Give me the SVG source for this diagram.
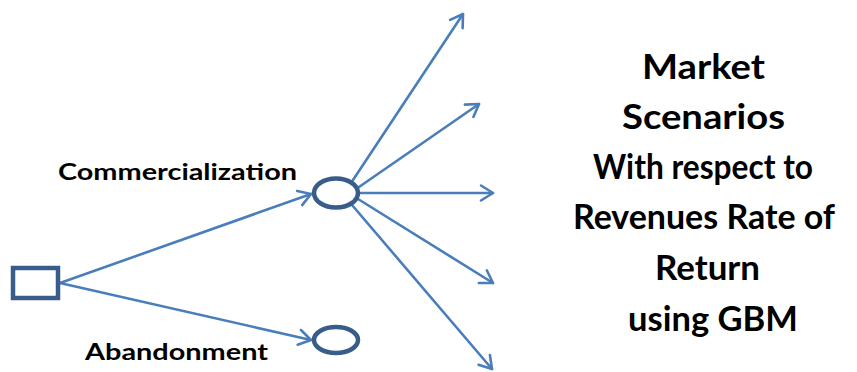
<svg xmlns="http://www.w3.org/2000/svg" width="857" height="372" viewBox="0 0 857 372">
  <style>
    .conn { stroke: #4a7ebb; stroke-width: 2.6; fill: none; stroke-linecap: round; }
    .node { stroke: #385d8a; stroke-width: 4.5; fill: #ffffff; }
    .lbl { font-family: Lato, "Open Sans", "Liberation Sans", sans-serif; font-weight: 700; fill: #000000; }
    .big { font-size: 35px; text-anchor: middle; }
    .small { font-size: 23px; }
  </style>
  <defs>
    <marker id="arr" markerUnits="userSpaceOnUse" markerWidth="30" markerHeight="30" viewBox="-15 -15 30 30" refX="0" refY="0" orient="auto">
      <path d="M-12,-7.5 L0,0 L-12,7.5" fill="none" stroke="#4a7ebb" stroke-width="2.6" stroke-linecap="round" stroke-linejoin="round"/>
    </marker>
  </defs>
  <rect width="857" height="372" fill="#ffffff"/>
  <g id="connectors">
    <line class="conn" x1="60" y1="283" x2="311" y2="194" marker-end="url(#arr)"/>
    <line class="conn" x1="60" y1="283" x2="311" y2="340" marker-end="url(#arr)"/>
    <line class="conn" x1="353" y1="180" x2="463" y2="14" marker-end="url(#arr)"/>
    <line class="conn" x1="359" y1="187" x2="479" y2="104" marker-end="url(#arr)"/>
    <line class="conn" x1="359" y1="193" x2="493" y2="193" marker-end="url(#arr)"/>
    <line class="conn" x1="358" y1="199" x2="493" y2="283" marker-end="url(#arr)"/>
    <line class="conn" x1="352" y1="205" x2="492" y2="369" marker-end="url(#arr)"/>
  </g>
  <g id="decision">
    <rect class="node" x="13" y="268" width="45" height="30"/>
  </g>
  <g id="commercialization">
    <ellipse class="node" cx="336" cy="193" rx="22" ry="14.5"/>
    <text class="lbl small" x="58" y="180" textLength="239" lengthAdjust="spacingAndGlyphs">Commercialization</text>
  </g>
  <g id="abandonment">
    <ellipse class="node" cx="336" cy="340" rx="22" ry="13"/>
    <text class="lbl small" x="85" y="360" textLength="183" lengthAdjust="spacingAndGlyphs">Abandonment</text>
  </g>
  <g id="scenarios">
    <text class="lbl big" x="703.5" y="79" textLength="123" lengthAdjust="spacingAndGlyphs">Market</text>
    <text class="lbl big" x="703.5" y="129" textLength="163" lengthAdjust="spacingAndGlyphs">Scenarios</text>
    <text class="lbl big" x="703" y="179" textLength="220" lengthAdjust="spacingAndGlyphs">With respect to</text>
    <text class="lbl big" x="704" y="229" textLength="262" lengthAdjust="spacingAndGlyphs">Revenues Rate of</text>
    <text class="lbl big" x="707.5" y="280" textLength="105" lengthAdjust="spacingAndGlyphs">Return</text>
    <text class="lbl big" x="713" y="331" textLength="170" lengthAdjust="spacingAndGlyphs">using GBM</text>
  </g>
</svg>
